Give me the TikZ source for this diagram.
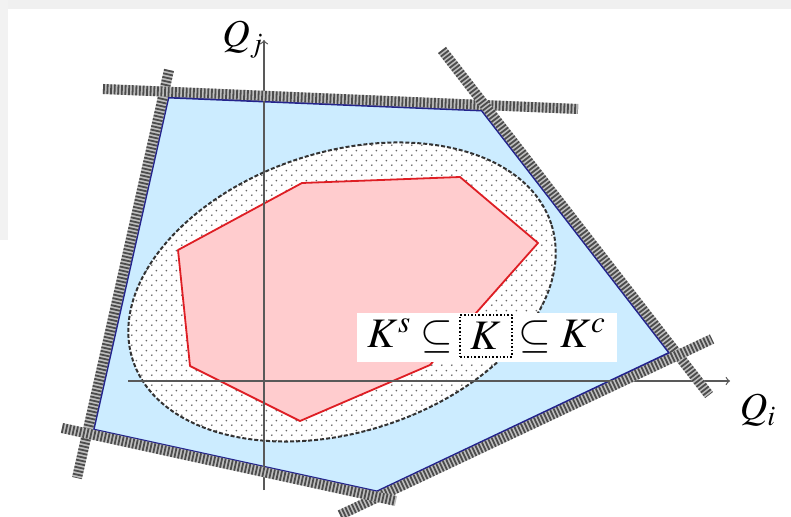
\documentclass[tikz,border=0pt]{standalone}
\usepackage{mathptmx}
\usetikzlibrary{positioning,patterns}
\definecolor{regionblue}{RGB}{204,236,255}
\definecolor{edgenavy}{RGB}{35,35,140}
\definecolor{innerpink}{RGB}{255,204,206}
\definecolor{innerred}{RGB}{222,30,36}
\pgfdeclarepatternformonly{sparsedots}{\pgfpointorigin}{\pgfpoint{5pt}{5pt}}{\pgfpoint{5pt}{5pt}}{
  \pgfpathcircle{\pgfpoint{1pt}{1pt}}{0.5pt}
  \pgfpathcircle{\pgfpoint{3.5pt}{3.5pt}}{0.5pt}
  \pgfusepath{fill}}
\begin{document}
\begin{tikzpicture}[x=0.5pt,y=-0.5pt,line join=round,>=to,
    font=\fontsize{21}{25}\selectfont,
    hatch/.style={line width=5pt,gray!50},
    hatchtex/.style={line width=5pt,black!70,dash pattern=on 0.9pt off 0.9pt},
    axis/.style={->,black!65,line width=0.6pt},
    txt/.style={inner sep=0pt,outer sep=0pt}]
  \useasboundingbox (0,0) rectangle (791,517);
  \fill[gray!12] (0,0) rectangle (791,9);
  \fill[gray!10] (0,0) rectangle (8,240);

  % outer region
  \coordinate (P1) at (168,97);
  \coordinate (P2) at (482,110);
  \coordinate (P3) at (670,353);
  \coordinate (P4) at (377,492);
  \coordinate (P5) at (93,430);
  % inner region
  \coordinate (R1) at (302,183);
  \coordinate (R2) at (460,177);
  \coordinate (R3) at (538,243);
  \coordinate (R4) at (430,365);
  \coordinate (R5) at (300,421);
  \coordinate (R6) at (190,366);
  \coordinate (R7) at (178,250);
  % constraint lines
  \coordinate (L1a) at (169,70);  \coordinate (L1b) at (77,478);
  \coordinate (L2a) at (103,89);  \coordinate (L2b) at (578,109);
  \coordinate (L3a) at (442,50);  \coordinate (L3b) at (709,395);
  \coordinate (L4a) at (340,515); \coordinate (L4b) at (712,339);
  \coordinate (L5a) at (62,428);  \coordinate (L5b) at (396,501);
  % axes
  \coordinate (Y0) at (264,490);
  \coordinate (Y1) at (264,40);
  \coordinate (X0) at (128,381);
  \coordinate (X1) at (730,381);
  \coordinate (E) at (342,292);

  \draw[edgenavy,line width=1.5pt,fill=regionblue] (P1) -- (P2) -- (P3) -- (P4) -- (P5) -- cycle;

  \fill[white] (E) ellipse [x radius=110pt,y radius=70pt,rotate=18];
  \fill[pattern=sparsedots,pattern color=black!60] (E) ellipse [x radius=110pt,y radius=70pt,rotate=18];
  \draw[black!80,line width=1pt,dash pattern=on 2pt off 1pt] (E) ellipse [x radius=110pt,y radius=70pt,rotate=18];

  \draw[innerred,line width=0.9pt,fill=innerpink] (R1) -- (R2) -- (R3) -- (R4) -- (R5) -- (R6) -- (R7) -- cycle;

  \draw[axis] (Y0) -- (Y1);
  \draw[axis] (X0) -- (X1);

  \foreach \a/\b in {L1a/L1b,L2a/L2b,L3a/L3b,L4a/L4b,L5a/L5b}{
    \draw[hatch] (\a) -- (\b);
    \draw[hatchtex] (\a) -- (\b);
  }

  \node[font=\fontsize{19}{23}\selectfont] (Qj) at (243,40) {$Q_j$};
  \node[font=\fontsize{19}{23}\selectfont] (Qi) at (758,410) {$Q_i$};

  \node[fill=white,minimum width=130pt,minimum height=24.5pt,inner sep=0pt] (lab) at (487,337.5) {};
  \node[draw,densely dotted,line width=0.8pt,minimum width=26pt,minimum height=21pt,inner sep=0pt] (K) at (486,336) {$K$};
  \node[txt,left=3pt of K] (Ks) {$K^{s}\subseteq$};
  \node[txt,right=3pt of K] (Kc) {$\subseteq K^{c}$};
\end{tikzpicture}
\end{document}
